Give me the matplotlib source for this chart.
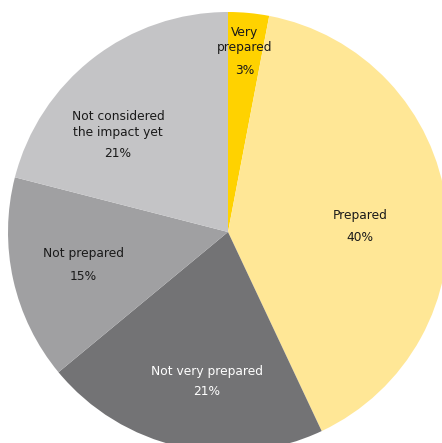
import matplotlib.pyplot as plt

# readiness survey shares, clockwise from 12 o'clock
categories = ["Very\nprepared", "Prepared", "Not very prepared",
              "Not prepared", "Not considered\nthe impact yet"]
shares = [3, 40, 21, 15, 21]

colors = ["#FFD200", "#FFE796", "#737375", "#A0A0A2", "#C4C4C6"]
text_colors = ["#1A1A1A", "#1A1A1A", "#FFFFFF", "#1A1A1A", "#1A1A1A"]

# label anchors in units of the pie radius: (x, y name, y percent)
label_pos = [(0.077, 0.873, 0.736),
             (0.60, 0.073, -0.027),
             (-0.095, -0.632, -0.727),
             (-0.659, -0.10, -0.20),
             (-0.50, 0.489, 0.359)]

W, H = 442, 443
CX, CY, R = 228, 232, 220   # pie centre / radius in pixels

fig = plt.figure(figsize=(W / 100, H / 100), dpi=100)
ax = fig.add_axes([0, 0, 1, 1])

ax.pie(shares, colors=colors, startangle=90, counterclock=False,
       radius=1.0, wedgeprops=dict(linewidth=0))

# pixel-exact framing: pie centre sits at (CX, CY) from top-left
ax.set_xlim(-CX / R, (W - CX) / R)
ax.set_ylim(-(H - CY) / R, CY / R)
ax.set_aspect("equal")
ax.axis("off")

for name, val, tc, (x, yn, yp) in zip(categories, shares, text_colors, label_pos):
    ax.text(x, yn, name, ha="center", va="center", fontsize=8.8,
            color=tc, linespacing=1.25)
    ax.text(x, yp, f"{val}%", ha="center", va="center", fontsize=8.8,
            color=tc)

plt.savefig("out.png", dpi=100)
plt.close()
